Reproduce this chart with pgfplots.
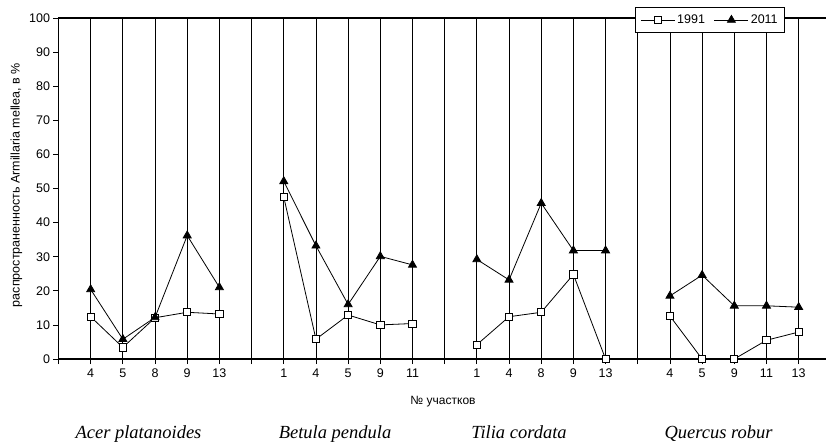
\documentclass[border=0pt]{standalone}
\usepackage{pgfplots}
\pgfplotsset{compat=1.18}
\usepackage{pgfplotstable}
\usepackage{fontspec}
\setmainfont{Liberation Sans}
\newfontfamily\serifit{Liberation Serif}
\pgfplotstableread{
x y
1 12.4
2 3.4
3 12.1
4 13.7
5 13.2
6 nan
7 47.5
8 5.8
9 12.9
10 10.0
11 10.4
12 nan
13 4.2
14 12.4
15 13.7
16 24.8
17 0
18 nan
19 12.6
20 0
21 0
22 5.5
23 7.9
}\dataA
\pgfplotstableread{
x y
1 20.4
2 5.8
3 12.2
4 36.2
5 21.0
6 nan
7 52.1
8 33.2
9 16.0
10 30.1
11 27.6
12 nan
13 29.2
14 23.2
15 45.7
16 31.8
17 31.8
18 nan
19 18.5
20 24.6
21 15.6
22 15.6
23 15.2
}\dataB
\begin{document}
\begin{tikzpicture}
\begin{axis}[
  at={(0,0)}, anchor=origin,
  scale only axis, width=767.5pt, height=341pt,
  xmin=0, xmax=23.85, ymin=0, ymax=100,
  axis x line=box, axis y line=left,
  axis line style={-, line width=1.3pt},
  xtick={0,...,23},
  xticklabels={,4,5,8,9,13,,1,4,5,9,11,,1,4,8,9,13,,4,5,9,11,13},
  ytick={0,10,...,100},
  xtick pos=bottom, ytick pos=left,
  tick align=outside, major tick length=5pt,
  tick style={black, line width=0.8pt},
  xmajorgrids, grid style={black, line width=0.8pt},
  /pgf/number format/assume math mode=true,
  tick label style={font=\fontsize{12.5}{14}\selectfont},
  yticklabel style={xshift=0pt},
  xticklabel style={yshift=-1pt},
  unbounded coords=jump,
  xlabel={№ участков},
  xlabel style={at={(axis description cs:0.501,-0.126)}, anchor=center, font=\fontsize{12}{14}\selectfont},
  ylabel={распространенность Armillaria mellea, в \%},
  ylabel style={at={(axis description cs:-0.055,0.51)}, anchor=center, font=\fontsize{12.5}{14}\selectfont},
  legend columns=2,
  legend style={at={(axis description cs:0.8489,0.9941)}, anchor=center, draw=black, line width=0.8pt, fill=white,
    font=\fontsize{12.5}{14}\selectfont, inner xsep=5pt, inner ysep=5pt,
    /tikz/every even column/.append style={column sep=7pt}},
  legend image code/.code={\draw[mark repeat=2, mark phase=2, #1] plot coordinates {(0pt,0pt) (17pt,0pt) (34pt,0pt)};},
  clip=false,
]
\addplot[black, line width=0.8pt, mark=square*, mark size=3.6pt, mark options={fill=white, solid}] table[x=x,y=y] {\dataA};
\addlegendentry{1991}
\addplot[black, line width=0.8pt, mark=triangle*, mark size=4.6pt, mark options={fill=black, solid}] table[x=x,y=y] {\dataB};
\addlegendentry{2011}
\node[anchor=base, font=\serifit\itshape\fontsize{18.5}{20}\selectfont] at (axis description cs:0.1042,-0.2317) {Acer platanoides};
\node[anchor=base, font=\serifit\itshape\fontsize{18.5}{20}\selectfont] at (axis description cs:0.3603,-0.2317) {Betula pendula};
\node[anchor=base, font=\serifit\itshape\fontsize{18.5}{20}\selectfont] at (axis description cs:0.6,-0.2317) {Tilia cordata};
\node[anchor=base, font=\serifit\itshape\fontsize{18.5}{20}\selectfont] at (axis description cs:0.86,-0.2317) {Quercus robur};
\end{axis}
\pgfresetboundingbox
\path (-58.5pt,-83pt) rectangle (767.5pt,359pt);
\end{tikzpicture}
\end{document}
